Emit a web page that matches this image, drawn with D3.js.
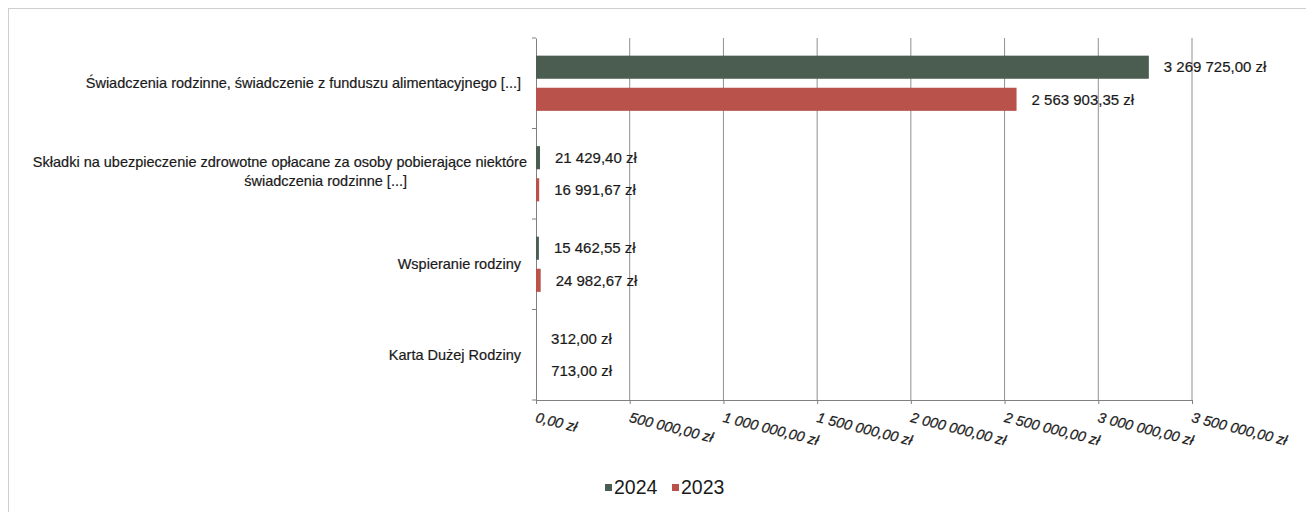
<!DOCTYPE html>
<html>
<head>
<meta charset="utf-8">
<script src="https://cdn.jsdelivr.net/npm/d3@7"></script>
<style>
  body { margin: 0; background: #fff; }
  svg { font-family: "Liberation Sans", Arial, sans-serif; }
</style>
</head>
<body>
<div id="chart"></div>
<script>
// dane z wykresu
const categories = [
    'Świadczenia rodzinne, świadczenie z funduszu alimentacyjnego [...]',
    'Składki na ubezpieczenie zdrowotne opłacane za osoby pobierające niektóre|świadczenia rodzinne [...]',
    'Wspieranie rodziny',
    'Karta Dużej Rodziny'
];
const seriesNames = ['2024', '2023'];
const values2024 = [3269725.00, 21429.40, 15462.55, 312.00];
const values2023 = [2563903.35, 16991.67, 24982.67, 713.00];
const xTicks = [0, 500000, 1000000, 1500000, 2000000, 2500000, 3000000, 3500000];
const colors = { '2024': '#4a5d50', '2023': '#b8524a' };

const width = 1306, height = 512;
const margin = { top: 38, right: 114, bottom: 112, left: 536 };
const plotW = width - margin.left - margin.right;
const plotH = height - margin.top - margin.bottom;

const pl = d3.formatLocale({ decimal: ',', thousands: ' ', grouping: [3], currency: ['', ' zł'] });
const fmt = v => pl.format(',.2f')(v) + ' zł';

const svg = d3.select('#chart').append('svg')
    .attr('width', width)
    .attr('height', height);

// ramka
svg.append('rect')
    .attr('x', 8.5).attr('y', 8.5)
    .attr('width', width).attr('height', height)
    .attr('fill', 'none')
    .attr('stroke', '#cfcfcf');

const g = svg.append('g')
    .attr('transform', `translate(${margin.left},${margin.top})`);

const x = d3.scaleLinear().domain([0, 3500000]).range([0, plotW]);
const y = d3.scaleBand().domain(categories).range([0, plotH]);
const ySub = d3.scaleBand().domain(seriesNames).range([0, y.bandwidth()])
    .paddingInner(0.28).paddingOuter(0.55);

// siatka
g.selectAll('.grid')
    .data(xTicks.slice(1))
    .enter().append('line')
    .attr('class', 'grid')
    .attr('x1', d => x(d)).attr('x2', d => x(d))
    .attr('y1', 0).attr('y2', plotH)
    .attr('stroke', '#8f8f8f')
    .attr('stroke-width', 1);

// os X
const xAxis = g.append('g')
    .attr('transform', `translate(0,${plotH})`)
    .call(d3.axisBottom(x).tickValues(xTicks).tickFormat(fmt).tickSizeInner(4).tickSizeOuter(0));
xAxis.select('.domain').attr('stroke', '#808080');
xAxis.selectAll('line').attr('stroke', '#808080');
xAxis.selectAll('text')
    .attr('text-anchor', 'start')
    .attr('dy', 0)
    .attr('transform', 'translate(0,15) rotate(14)')
    .style('font-size', '14.3px')
    .style('font-style', 'italic')
    .attr('fill', '#1a1a1a')
    .attr('stroke', '#1a1a1a')
    .attr('stroke-width', 0.25);

// os Y
const yAxis = g.append('g')
    .call(d3.axisLeft(y).tickSize(0).tickFormat(''));
yAxis.select('.domain').attr('stroke', '#808080');
g.selectAll('.ytick')
    .data(y.domain().map(d => y(d)).concat([plotH]))
    .enter().append('line')
    .attr('x1', -4).attr('x2', 0)
    .attr('y1', d => d).attr('y2', d => d)
    .attr('stroke', '#808080');

// etykiety kategorii
const catLabels = g.selectAll('.cat')
    .data(categories)
    .enter().append('text')
    .attr('class', 'cat')
    .attr('y', d => y(d) + y.bandwidth() / 2)
    .attr('text-anchor', 'end')
    .style('font-size', '14.5px')
    .attr('fill', '#1a1a1a')
    .attr('stroke', '#1a1a1a')
    .attr('stroke-width', 0.2);
catLabels.each(function(d) {
    const lines = d.split('|');
    const t = d3.select(this);
    lines.forEach((line, i) => {
        t.append('tspan')
            .attr('x', lines.length === 1 ? -15 : (i === 0 ? -9 : -129))
            .attr('dy', i === 0 ? (lines.length === 1 ? '0.35em' : '-0.45em') : '1.3em')
            .text(line);
    });
});

// slupki
const rows = categories.map((c, i) => ({ cat: c, '2024': values2024[i], '2023': values2023[i] }));
const groups = g.selectAll('.cat-group')
    .data(rows)
    .enter().append('g')
    .attr('class', 'cat-group')
    .attr('transform', d => `translate(0,${y(d.cat)})`);

const bars = groups.selectAll('.bar')
    .data(d => seriesNames.map(s => ({ key: s, value: d[s] })))
    .enter();

bars.append('rect')
    .attr('x', 0)
    .attr('y', d => ySub(d.key))
    .attr('width', d => x(d.value))
    .attr('height', ySub.bandwidth())
    .attr('fill', d => colors[d.key]);

bars.append('text')
    .attr('x', d => x(d.value) + 15)
    .attr('y', d => ySub(d.key) + ySub.bandwidth() / 2)
    .attr('dy', '0.35em')
    .style('font-size', '15px')
    .attr('fill', '#1a1a1a')
    .attr('stroke', '#1a1a1a')
    .attr('stroke-width', 0.2)
    .text(d => fmt(d.value));

// legenda
const legend = svg.append('g')
    .attr('transform', `translate(605,487)`);
const legItems = legend.selectAll('.leg')
    .data(seriesNames)
    .enter().append('g')
    .attr('transform', (d, i) => `translate(${i * 67},0)`);
legItems.append('rect')
    .attr('x', 0).attr('y', -3)
    .attr('width', 7).attr('height', 7)
    .attr('fill', d => colors[d]);
legItems.append('text')
    .attr('x', 9)
    .attr('dy', '0.36em')
    .style('font-size', '19.5px')
    .attr('fill', '#1a1a1a')
    .text(d => d);
</script>
</body>
</html>
